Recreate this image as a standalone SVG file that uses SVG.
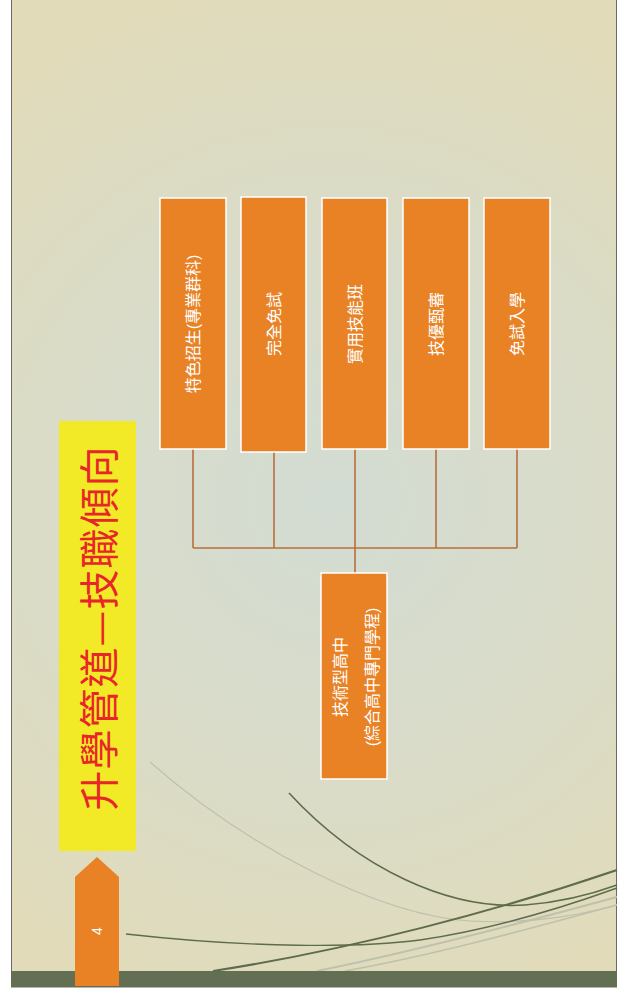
<svg xmlns="http://www.w3.org/2000/svg" width="629" height="994" viewBox="0 0 629 994">
<defs>
<radialGradient id="bg" cx="330" cy="500" r="520" gradientUnits="userSpaceOnUse">
<stop offset="0" stop-color="#d3dcd3"/>
<stop offset="0.55" stop-color="#dadcc8"/>
<stop offset="1" stop-color="#e1dbba"/>
</radialGradient>
<style>
.box{fill:#e88225;stroke:#ffffff;stroke-width:1.5}
.lbl{fill:#ffffff;font-family:"Liberation Sans","Noto Sans CJK TC",sans-serif;font-size:16px;text-anchor:middle;dominant-baseline:central}
.conn{fill:none;stroke:#b96f3c;stroke-width:1.6}
.dk{fill:none;stroke:#5e6c4b}
.lt{fill:none;stroke:#bfc0ad}
</style>
</defs>
<rect x="0" y="0" width="629" height="994" fill="#ffffff"/>
<rect x="11.5" y="-1" width="605" height="988" fill="url(#bg)" stroke="#6b6b62" stroke-width="1"/>
<g id="curves">
<path class="lt" stroke-width="1.2" d="M150,762 C250,850 380,915 470,921 C540,925 590,912 617,905"/>
<path class="dk" stroke-width="1.6" d="M289,793 C360,870 450,910 525,905 C565,902 595,893 617,885"/>
<path class="dk" stroke-width="1.4" d="M126,934 C250,948 360,948 420,940 C500,928 570,905 617,888"/>
<path class="dk" stroke-width="2" d="M213,971 C350,950 500,910 617,870"/>
<path class="lt" stroke-width="2" d="M317,971 C420,950 540,918 617,897"/>
<path class="lt" stroke-width="1.5" d="M345,971 C450,952 560,920 617,905"/>
</g>
<rect x="11" y="971" width="606" height="16" fill="#626f52"/>
<g id="pagetab">
<path d="M75,986 L75,877 L97,857 L119,877 L119,986 Z" fill="#e88225"/>
<text class="lbl" font-size="14" transform="translate(97,931) rotate(-90)" style="font-size:14px">4</text>
</g>
<g id="title">
<rect x="59" y="421" width="77" height="430" fill="#f2ea27"/>
<text transform="translate(97,628) rotate(-90)" fill="#e8262a" font-family="'Noto Sans CJK TC',sans-serif" font-size="40" text-anchor="middle" dominant-baseline="central" letter-spacing="1">升學管道—技職傾向</text>
</g>
<g id="connectors">
<path class="conn" d="M193,449 V548 M274,452 V548 M355,449 V548 M436,449 V548 M517,449 V548 M193,548 H517 M355,548 V573"/>
</g>
<g id="n1"><rect class="box" x="160" y="198" width="66" height="251"/><text class="lbl" transform="translate(193,324) rotate(-90)">特色招生(專業群科)</text></g>
<g id="n2"><rect class="box" x="241" y="197" width="65" height="255"/><text class="lbl" transform="translate(274,324) rotate(-90)">完全免試</text></g>
<g id="n3"><rect class="box" x="322" y="198" width="65" height="251"/><text class="lbl" transform="translate(355,324) rotate(-90)">實用技能班</text></g>
<g id="n4"><rect class="box" x="403" y="198" width="66" height="251"/><text class="lbl" transform="translate(436,324) rotate(-90)">技優甄審</text></g>
<g id="n5"><rect class="box" x="484" y="198" width="66" height="251"/><text class="lbl" transform="translate(517,324) rotate(-90)">免試入學</text></g>
<g id="n6"><rect class="box" x="321" y="573" width="66" height="206"/>
<text class="lbl" transform="translate(340,677) rotate(-90)">技術型高中</text>
<text class="lbl" transform="translate(372,677) rotate(-90)">(綜合高中專門學程)</text>
</g>
</svg>
